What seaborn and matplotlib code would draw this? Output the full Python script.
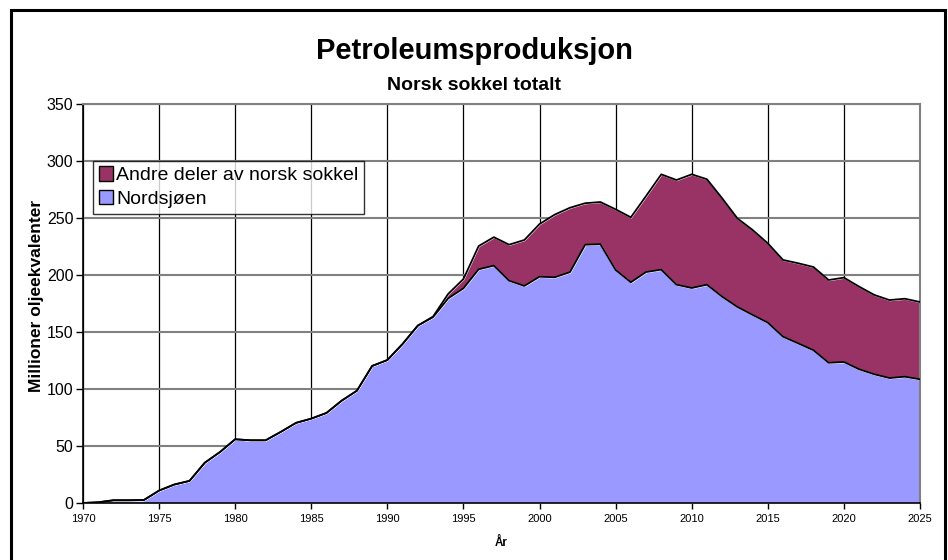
import numpy as np
import pandas as pd
import matplotlib
matplotlib.use("Agg")
import matplotlib.pyplot as plt
import seaborn as sns
from matplotlib.patches import Rectangle, Patch

years = list(range(1970, 2026))

nordsjoen = [0, 0.6, 2.4, 2.4, 2.6, 10.9, 16.2, 19.4, 35.3, 44.7,
             55.9, 55, 55, 62.4, 70.3, 74, 79, 89.8, 98.5, 120.2,
             125.4, 139.5, 155.6, 163, 179.5, 188.3, 205, 208.2, 195, 190.4,
             198.5, 198, 202.5, 226.6, 227, 204.4, 193.6, 202.6, 204.7, 191.5,
             188.6, 191.5, 181, 172, 165, 158.2, 145.9, 140, 134, 123,
             123.7, 117.3, 112.9, 109.6, 110.8, 108.5]

andre = [0] * 23 + [0.5, 4, 8.2, 20.4, 25, 31.6, 40.3,
                    46.2, 55, 56.5, 36.4, 37, 53.2, 57, 66.7, 83.6, 91.8,
                    99.7, 92.5, 86.3, 77.7, 74.5, 69.6, 67.3, 70.3, 73, 72.6,
                    74, 72.5, 69.6, 68.4, 68.4, 67.8]

df = pd.DataFrame({"År": years, "Nordsjøen": nordsjoen, "Andre": andre})
df["Totalt"] = df["Nordsjøen"] + df["Andre"]

sns.set_style("white")
plt.rcParams["font.family"] = ["Liberation Sans", "DejaVu Sans"]
plt.rcParams["text.color"] = "black"
plt.rcParams["axes.labelcolor"] = "black"
plt.rcParams["xtick.color"] = "black"
plt.rcParams["ytick.color"] = "black"

blue = "#9999ff"
maroon = "#993366"

fig = plt.figure(figsize=(9.48, 5.6), dpi=100)
ax = fig.add_axes([83 / 948, 57 / 560, 837 / 948, 399 / 560])

ax.stackplot(df["År"], df["Nordsjøen"], df["Andre"], colors=[blue, maroon], zorder=2)
sns.lineplot(data=df, x="År", y="Nordsjøen", color="black", lw=1.3, ax=ax, zorder=3)
sns.lineplot(data=df, x="År", y="Totalt", color="black", lw=1.3, ax=ax, zorder=3)

ax.set_xlim(1970, 2025)
ax.set_ylim(0, 350)
ax.set_xticks(range(1970, 2026, 5))
ax.set_yticks(range(0, 351, 50))
ax.tick_params(axis="x", labelsize=8, length=4, width=1, direction="out", bottom=True, pad=4)
ax.tick_params(axis="y", labelsize=11.5, length=5, width=1, direction="out", left=True, pad=2)

ax.set_axisbelow(True)
ax.yaxis.grid(True, color="#808080", lw=1.5, zorder=0)
ax.xaxis.grid(True, color="black", lw=0.9, zorder=0)

for side in ["top", "right"]:
    ax.spines[side].set_color("#808080")
    ax.spines[side].set_linewidth(1.5)
for side in ["left", "bottom"]:
    ax.spines[side].set_color("black")
    ax.spines[side].set_linewidth(1.2)

ax.set_xlabel("År", fontsize=8.5, fontweight="bold")
ax.xaxis.set_label_coords(0.5, -0.085)
ax.set_ylabel("Millioner oljeekvalenter", fontsize=12.5, fontweight="bold")
ax.yaxis.set_label_coords(-0.046, 0.52)

fig.text(0.5, 1 - 51 / 560, "Petroleumsproduksjon", ha="center", va="center",
         fontsize=21, fontweight="bold")
fig.text(0.5, 1 - 86 / 560, "Norsk sokkel totalt", ha="center", va="center",
         fontsize=14, fontweight="bold")

handles = [Patch(facecolor=maroon, edgecolor="black", label="Andre deler av norsk sokkel"),
           Patch(facecolor=blue, edgecolor="black", label="Nordsjøen")]
leg = ax.legend(handles=handles, loc="upper left", bbox_to_anchor=(0.012, 0.858),
                fontsize=14, frameon=True, fancybox=False, borderaxespad=0,
                handlelength=0.75, handleheight=0.75, handletextpad=0.15,
                labelspacing=0.3, borderpad=0.3)
leg.get_frame().set_edgecolor("black")
leg.get_frame().set_linewidth(1.0)

fig.patches.append(Rectangle((11 / 948, -0.05), 934 / 948, 1.05 - 10 / 560,
                             transform=fig.transFigure, fill=False,
                             edgecolor="black", lw=2.2))

fig.savefig("out.png", dpi=100)
